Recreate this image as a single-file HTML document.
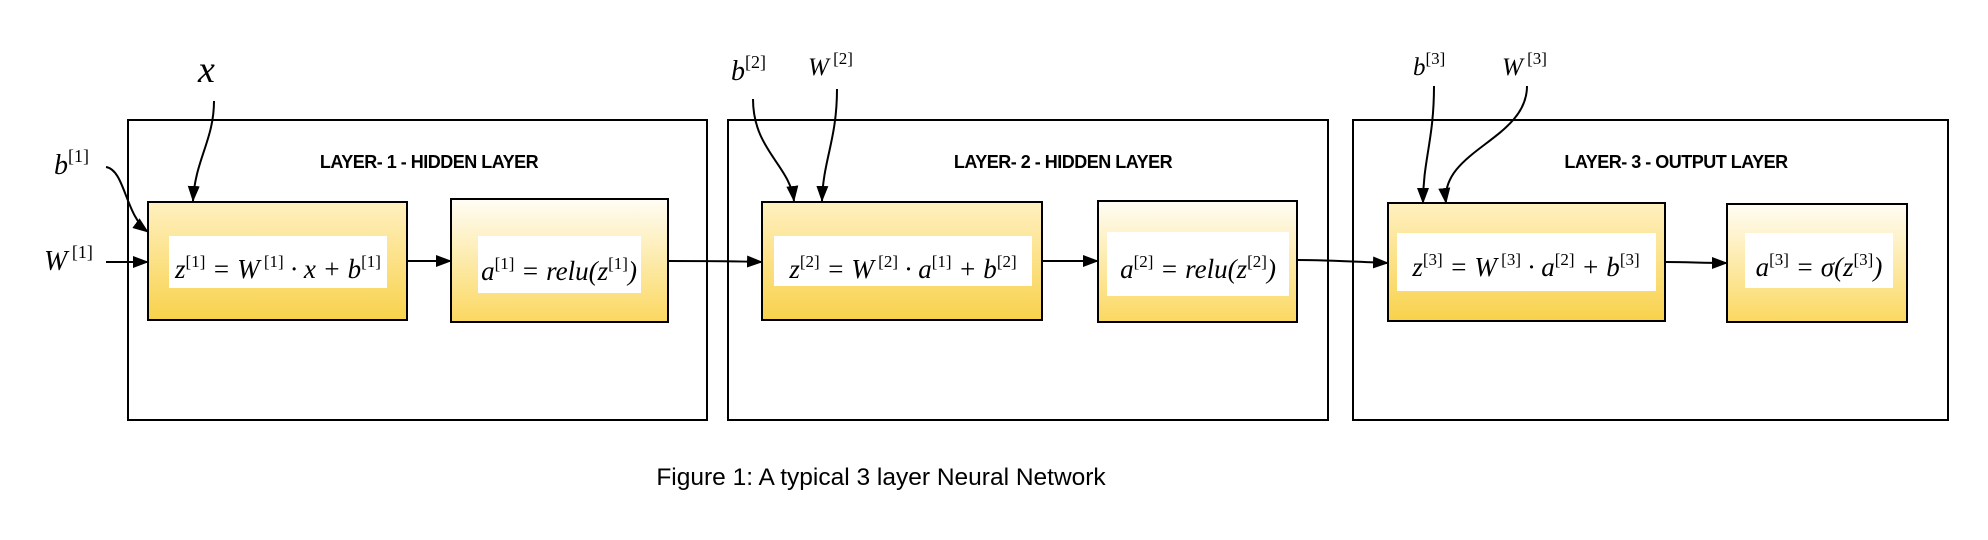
<!DOCTYPE html>
<html><head><meta charset="utf-8"><style>
html,body{margin:0;padding:0;background:#fff;width:1988px;height:540px;overflow:hidden}
.m{font-family:"Liberation Serif",serif;font-style:italic;font-size:27px;fill:#000}
.s{font-size:17px;font-style:normal}
.t{font-family:"Liberation Sans",sans-serif;font-weight:bold;font-size:18px;letter-spacing:-0.5px;fill:#000}
</style></head><body>
<svg width="1988" height="540" xmlns="http://www.w3.org/2000/svg">
<defs>
<linearGradient id="g" x1="0" y1="0" x2="0" y2="1"><stop offset="0" stop-color="#fff0c0"/><stop offset="1" stop-color="#f8d24c"/></linearGradient>
<linearGradient id="g2" x1="0" y1="0" x2="0" y2="1"><stop offset="0" stop-color="#fffdf5"/><stop offset="1" stop-color="#fbd860"/></linearGradient>
<marker id="a" markerWidth="16" markerHeight="12" refX="15" refY="6" orient="auto" markerUnits="userSpaceOnUse"><path d="M0,0 L16,6 L0,12 Z" fill="#000"/></marker>
</defs>
<g fill="none" stroke="#000" stroke-width="2">
<rect x="128" y="120" width="579" height="300"/>
<rect x="728" y="120" width="600" height="300"/>
<rect x="1353" y="120" width="595" height="300"/>
</g>
<g stroke="#000" stroke-width="2">
<rect x="148" y="202" width="259" height="118" fill="url(#g)"/>
<rect x="451" y="199" width="217" height="123" fill="url(#g2)"/>
<rect x="762" y="202" width="280" height="118" fill="url(#g)"/>
<rect x="1098" y="201" width="199" height="121" fill="url(#g2)"/>
<rect x="1388" y="203" width="277" height="118" fill="url(#g)"/>
<rect x="1727" y="204" width="180" height="118" fill="url(#g2)"/>
</g>
<g fill="#fff">
<rect x="169" y="236" width="218" height="52"/>
<rect x="478" y="236" width="163" height="57"/>
<rect x="774" y="236" width="258" height="50"/>
<rect x="1107" y="232" width="182" height="64"/>
<rect x="1397" y="233" width="259" height="58"/>
<rect x="1745" y="233" width="148" height="55"/>
</g>
<g class="t" text-anchor="middle">
<text x="429" y="168">LAYER- 1 - HIDDEN LAYER</text>
<text x="1063" y="168">LAYER- 2 - HIDDEN LAYER</text>
<text x="1676" y="168">LAYER- 3 - OUTPUT LAYER</text>
</g>
<g class="m" text-anchor="middle">
<text x="278" y="278">z<tspan class="s" dy="-11">[1]</tspan><tspan dy="11"> = W</tspan><tspan class="s" dy="-11"> [1]</tspan><tspan dy="11"> · x + b</tspan><tspan class="s" dy="-11">[1]</tspan></text>
<text x="559" y="280">a<tspan class="s" dy="-11">[1]</tspan><tspan dy="11"> = relu(z</tspan><tspan class="s" dy="-11">[1]</tspan><tspan dy="11">)</tspan></text>
<text x="903" y="278">z<tspan class="s" dy="-11">[2]</tspan><tspan dy="11"> = W</tspan><tspan class="s" dy="-11"> [2]</tspan><tspan dy="11"> · a</tspan><tspan class="s" dy="-11">[1]</tspan><tspan dy="11"> + b</tspan><tspan class="s" dy="-11">[2]</tspan></text>
<text x="1198" y="278">a<tspan class="s" dy="-11">[2]</tspan><tspan dy="11"> = relu(z</tspan><tspan class="s" dy="-11">[2]</tspan><tspan dy="11">)</tspan></text>
<text x="1526" y="276">z<tspan class="s" dy="-11">[3]</tspan><tspan dy="11"> = W</tspan><tspan class="s" dy="-11"> [3]</tspan><tspan dy="11"> · a</tspan><tspan class="s" dy="-11">[2]</tspan><tspan dy="11"> + b</tspan><tspan class="s" dy="-11">[3]</tspan></text>
<text x="1819" y="276">a<tspan class="s" dy="-11">[3]</tspan><tspan dy="11"> = σ(z</tspan><tspan class="s" dy="-11">[3]</tspan><tspan dy="11">)</tspan></text>
</g>
<g class="m">
<text x="198" y="82" style="font-size:38px">x</text>
<text x="54" y="174" style="font-size:28px">b<tspan class="s" style="font-size:18px" dy="-12">[1]</tspan></text>
<text x="44" y="270" style="font-size:28px">W<tspan class="s" style="font-size:18px" dy="-12"> [1]</tspan></text>
<text x="731" y="80" style="font-size:28px">b<tspan class="s" style="font-size:18px" dy="-12">[2]</tspan></text>
<text x="808" y="75" style="font-size:25px">W<tspan class="s" style="font-size:17px" dy="-11"> [2]</tspan></text>
<text x="1413" y="75" style="font-size:25px">b<tspan class="s" style="font-size:17px" dy="-11">[3]</tspan></text>
<text x="1502" y="75" style="font-size:25px">W<tspan class="s" style="font-size:17px" dy="-11"> [3]</tspan></text>
</g>
<g fill="none" stroke="#000" stroke-width="2" marker-end="url(#a)">
<path d="M214,101 C214,140 195,160 193,201"/>
<path d="M106,167 C125,170 125,215 148,232"/>
<path d="M106,262 L148,262"/>
<path d="M407,261 L451,261"/>
<path d="M668,261 C700,261 730,261 762,262"/>
<path d="M1042,261 L1098,261"/>
<path d="M1297,260 C1330,260 1360,262 1388,263"/>
<path d="M1665,262 C1690,262 1700,263 1727,263"/>
<path d="M753,99 C753,150 790,165 794,201"/>
<path d="M837,89 C837,140 823,160 822,201"/>
<path d="M1434,86 C1434,140 1423,160 1423,203"/>
<path d="M1527,86 C1527,140 1440,150 1446,203"/>
</g>
<text x="881" y="485" text-anchor="middle" style="font-family:'Liberation Sans',sans-serif;font-size:24.5px">Figure 1: A typical 3 layer Neural Network</text>
</svg>
</body></html>
